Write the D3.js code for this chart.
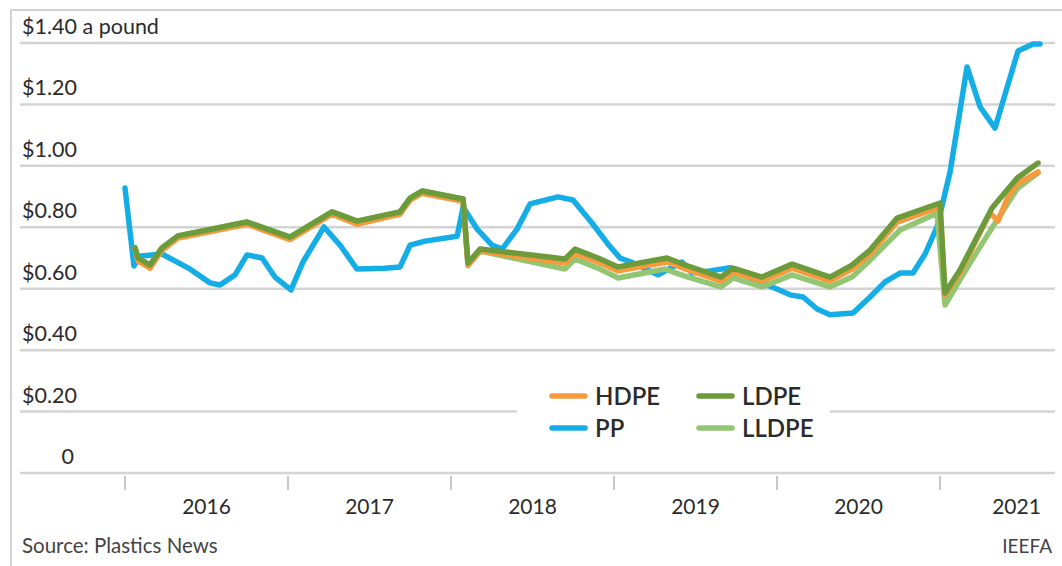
<!DOCTYPE html>
<html>
<head>
<meta charset="utf-8">
<script src="https://cdnjs.cloudflare.com/ajax/libs/d3/7.8.5/d3.min.js"></script>
<style>
 html, body { margin: 0; padding: 0; background: #ffffff; }
 #d3svg { width: 1062px; height: 566px; }
 text { font-family: Lato, "Noto Sans", sans-serif; fill: #2b2b2b; }
</style>
</head>
<body>
<div id="d3svg"></div>
<script>
 //Month offsets are counted from January 2016, values are dollars a pound.
 var yearLabels = ["2016", "2017", "2018", "2019", "2020", "2021"];
 var yTicks = [0, 0.2, 0.4, 0.6, 0.8, 1.0, 1.2, 1.4];

 var hdpe = [[0.74, 0.73], [0.96, 0.69], [1.84, 0.667], [2.72, 0.725], [3.90, 0.765], [8.98, 0.81], [12.15, 0.76],
  [15.24, 0.843], [17.08, 0.81], [20.25, 0.843], [20.99, 0.888], [21.87, 0.911], [24.89, 0.885], [25.25, 0.677],
  [26.14, 0.723], [32.39, 0.684], [33.13, 0.716], [34.82, 0.687], [36.30, 0.658], [39.90, 0.687], [41.45, 0.661],
  [43.88, 0.625], [44.76, 0.654], [46.90, 0.625], [49.11, 0.667], [51.90, 0.625], [53.52, 0.664], [54.85, 0.713],
  [56.84, 0.817], [60.00, 0.866], [60.37, 0.58], [61.47, 0.651], [63.68, 0.847], [64.27, 0.82], [65.01, 0.90],
  [65.67, 0.941], [67.22, 0.98]];

 var ldpe = [[0.74, 0.733], [0.96, 0.70], [1.84, 0.677], [2.72, 0.733], [3.90, 0.772], [8.98, 0.817], [12.15, 0.768],
  [15.24, 0.85], [17.08, 0.82], [20.25, 0.85], [20.99, 0.895], [21.87, 0.918], [24.89, 0.892], [25.25, 0.684],
  [26.14, 0.729], [32.39, 0.697], [33.13, 0.729], [34.82, 0.70], [36.30, 0.671], [39.90, 0.70], [41.45, 0.674],
  [43.88, 0.638], [44.76, 0.667], [46.90, 0.638], [49.11, 0.68], [51.90, 0.638], [53.52, 0.677], [54.85, 0.726],
  [56.84, 0.83], [60.00, 0.879], [60.37, 0.586], [61.47, 0.661], [63.83, 0.863], [65.67, 0.96], [67.22, 1.009]];

 var lldpe = [[0.74, 0.733], [0.96, 0.70], [1.84, 0.677], [2.72, 0.733], [3.90, 0.772], [8.98, 0.817], [12.15, 0.768],
  [15.24, 0.85], [17.08, 0.82], [20.25, 0.85], [20.99, 0.895], [21.87, 0.918], [24.89, 0.892], [25.25, 0.675],
  [26.14, 0.723], [32.39, 0.664], [33.13, 0.697], [34.82, 0.667], [36.30, 0.635], [39.76, 0.664], [41.45, 0.638],
  [43.88, 0.606], [44.76, 0.635], [46.90, 0.606], [49.11, 0.645], [51.90, 0.606], [53.52, 0.638], [54.85, 0.693],
  [57.06, 0.791], [59.78, 0.846], [60.37, 0.547], [62.21, 0.684], [63.83, 0.798], [65.67, 0.925], [67.22, 0.977]];

 var pp = [[0, 0.928], [0.66, 0.674], [1.03, 0.706], [2.72, 0.713], [4.64, 0.668], [6.26, 0.619], [6.99, 0.612],
  [8.10, 0.645], [8.98, 0.71], [10.09, 0.70], [11.04, 0.638], [12.22, 0.596], [13.10, 0.687], [14.65, 0.801],
  [15.83, 0.742], [17.08, 0.664], [19.14, 0.667], [20.25, 0.671], [20.99, 0.742], [22.09, 0.755], [24.45, 0.771],
  [24.89, 0.866], [25.91, 0.795], [27.02, 0.742], [27.76, 0.729], [28.86, 0.794], [29.82, 0.876], [31.88, 0.899],
  [32.98, 0.889], [34.38, 0.814], [35.49, 0.749], [36.44, 0.70], [37.40, 0.684], [39.24, 0.645], [41.01, 0.687],
  [41.74, 0.651], [43.07, 0.658], [44.54, 0.668], [46.53, 0.625], [48.00, 0.599], [48.96, 0.58], [49.92, 0.573],
  [50.95, 0.534], [51.90, 0.515], [53.60, 0.521], [54.85, 0.573], [55.95, 0.622], [57.06, 0.651], [58.01, 0.651],
  [58.90, 0.713], [59.78, 0.801], [60.74, 0.98], [61.99, 1.322], [62.95, 1.192], [64.05, 1.123], [65.74, 1.374],
  [66.85, 1.397], [67.36, 1.397]];

 window.onload = function()
 {
  var svg = d3.select("#d3svg").append("svg").attr("width", 1062).attr("height", 566);

  //Scales: one month is about 13.6 pixels.
  var x = d3.scaleLinear().domain([0, 72]).range([125, 1103]);
  var y = d3.scaleLinear().domain([0, 1.4]).range([473, 43]);

  var gridLeft = 20;
  var gridRight = 1055;

  //Frame round the chart.
  svg.append("path").attr("d", "M11,566 L11,10 L1062,10").attr("fill", "none")
   .attr("stroke", "#d2d2d2").attr("stroke-width", 2);

  //Grid lines.
  svg.selectAll(".grid").data(yTicks).enter().append("line")
   .attr("x1", gridLeft).attr("x2", gridRight)
   .attr("y1", function(d) { return y(d); }).attr("y2", function(d) { return y(d); })
   .attr("stroke", "#d4d4d4").attr("stroke-width", 2.5);

  //Y labels.
  svg.selectAll(".ylabel").data(yTicks).enter().append("text")
   .attr("x", function(d) { return d === 0 ? 74 : 22; })
   .attr("y", function(d) { return y(d) - 9; })
   .attr("text-anchor", function(d) { return d === 0 ? "end" : "start"; })
   .style("font-size", "21.5px")
   .text(function(d)
   {
    if (d === 0) return "0";
    var s = "$" + d.toFixed(2);
    return d === 1.4 ? s + " a pound" : s;
   });

  //Year ticks and labels.
  var yearStarts = d3.range(0, 61, 12);
  svg.selectAll(".xtick").data(yearStarts).enter().append("line")
   .attr("x1", function(d) { return x(d); }).attr("x2", function(d) { return x(d); })
   .attr("y1", 476).attr("y2", 490)
   .attr("stroke", "#c8c8c8").attr("stroke-width", 2);

  svg.selectAll(".xlabel").data(yearLabels).enter().append("text")
   .attr("x", function(d, i) { return x(i * 12 + 6) - (i === 5 ? 5 : 0); })
   .attr("y", 514)
   .attr("text-anchor", "middle")
   .style("font-size", "21px")
   .text(function(d) { return d; });

  //White box behind the legend.
  svg.append("rect").attr("x", 517).attr("y", 370).attr("width", 313).attr("height", 85).attr("fill", "#ffffff");

  //Lines.
  var line = d3.line().x(function(d) { return x(d[0]); }).y(function(d) { return y(d[1]); });
  var series = [
   { name: "PP", data: pp, color: "#14ade6" },
   { name: "LLDPE", data: lldpe, color: "#92c672" },
   { name: "HDPE", data: hdpe, color: "#f7993d" },
   { name: "LDPE", data: ldpe, color: "#6b9b3a" }
  ];
  svg.selectAll(".series").data(series).enter().append("path")
   .attr("d", function(d) { return line(d.data); })
   .attr("fill", "none")
   .attr("stroke", function(d) { return d.color; })
   .attr("stroke-width", 5.5)
   .attr("stroke-linejoin", "round")
   .attr("stroke-linecap", "round");

  //Legend.
  var legendItems = [
   { name: "HDPE", color: "#f7993d", x: 550, y: 396 },
   { name: "LDPE", color: "#6b9b3a", x: 697, y: 396 },
   { name: "PP", color: "#14ade6", x: 550, y: 428 },
   { name: "LLDPE", color: "#92c672", x: 697, y: 428 }
  ];
  var legend = svg.selectAll(".legend").data(legendItems).enter().append("g");
  legend.append("line")
   .attr("x1", function(d) { return d.x + 2; }).attr("x2", function(d) { return d.x + 35; })
   .attr("y1", function(d) { return d.y; }).attr("y2", function(d) { return d.y; })
   .attr("stroke", function(d) { return d.color; })
   .attr("stroke-width", 5.5).attr("stroke-linecap", "round");
  legend.append("text")
   .attr("x", function(d) { return d.x + 45; })
   .attr("y", function(d) { return d.y + 9; })
   .style("font-size", "24px").style("font-weight", "600")
   .text(function(d) { return d.name; });

  //Footer.
  svg.append("text").attr("x", 22).attr("y", 553).style("font-size", "20.5px").style("fill", "#444")
   .text("Source: Plastics News");
  svg.append("text").attr("x", 1052).attr("y", 553).attr("text-anchor", "end").style("font-size", "19px")
   .style("fill", "#444").text("IEEFA");
 }
</script>
</body>
</html>
